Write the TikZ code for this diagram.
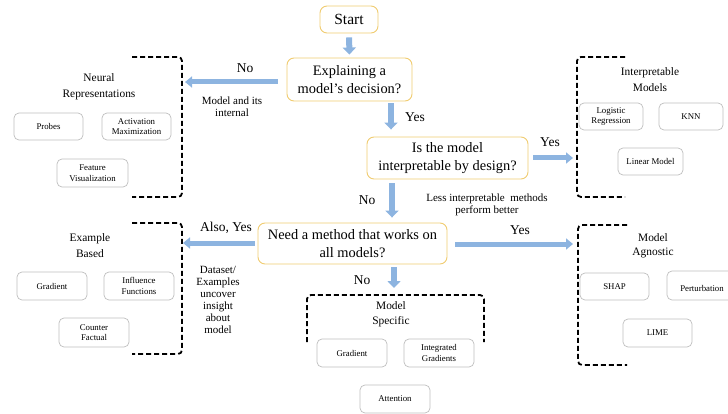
\documentclass[tikz,border=0pt]{standalone}
\usepackage{fontspec}
\setmainfont{Liberation Serif}
\newfontfamily\tnr{Liberation Serif}
\usetikzlibrary{arrows.meta}
\definecolor{flowblue}{RGB}{141,180,224}
\definecolor{gold}{RGB}{240,204,112}
\definecolor{boxgray}{RGB}{190,190,190}
\tikzset{
  qbox/.style={draw=gold, line width=0.9pt, rounded corners=7pt, fill=white, align=center,
    font=\tnr\fontsize{14.4}{17.5}\selectfont, inner sep=0pt},
  gbox/.style={draw=boxgray, line width=0.7pt, rounded corners=5pt, align=center,
    font=\tnr\fontsize{8.8}{10.5}\selectfont, inner sep=0pt, minimum width=70pt, minimum height=28pt},
  flow/.style={draw=flowblue, line width=6pt, -{Triangle[width=13pt,length=7pt]}},
  hflow/.style={draw=flowblue, line width=5pt, -{Triangle[width=11pt,length=7pt]}},
  bracket/.style={draw=black, line width=1.8pt, dash pattern=on 5pt off 3pt, rounded corners=4pt},
  ans/.style={font=\tnr\fontsize{13.5}{16}\selectfont},
  note/.style={font=\tnr\fontsize{11}{12}\selectfont, align=center},
  title/.style={font=\tnr\fontsize{11.4}{16}\selectfont, align=center}
}
\begin{document}
\begin{tikzpicture}[x=1pt,y=-1pt]
\useasboundingbox (0,0) rectangle (728,414);
\clip (0,0) rectangle (728,414);

% decision boxes
\node[qbox, minimum width=58pt, minimum height=27pt, font=\tnr\fontsize{15.5}{18}\selectfont] (start) at (349,19.5) {Start};
\node[qbox, minimum width=125pt, minimum height=43pt] (q1) at (349.5,79.5) {Explaining a\\model’s decision?};
\node[qbox, minimum width=161pt, minimum height=42pt] (q2) at (447.5,158) {Is the model\\interpretable by design?};
\node[qbox, minimum width=189pt, minimum height=41pt] (q3) at (352.5,243.5) {Need a method that works on\\all models?};

% bracket anchor coordinates
\coordinate (nrb) at (182,82);
\coordinate (imb) at (577,158);
\coordinate (ebb) at (182,243);
\coordinate (mab) at (578,244);
\coordinate (msb) at (394,295);
\coordinate (c1) at (391,0);
\coordinate (c2) at (392,0);

% arrows
\draw[flow, shorten <=4pt, shorten >=3pt] (start.south) -- (q1.north);
\draw[flow, shorten <=2pt, shorten >=7pt] (q1.south -| c1) -- (q2.north -| c1);
\draw[flow, shorten <=4pt, shorten >=5pt] (q2.south -| c2) -- (q3.north -| c2);
\draw[flow, shorten <=3pt, shorten >=7pt] (q3.south -| msb) -- (msb);
\draw[hflow, shorten <=9pt, shorten >=3pt] (q1.west |- nrb) -- (nrb);
\draw[hflow, shorten <=5pt, shorten >=4pt] (q2.east) -- (imb);
\draw[hflow, shorten <=8pt, shorten >=5pt] (q3.east |- mab) -- (mab);
\draw[hflow, shorten <=3pt, shorten >=1pt] (q3.west |- ebb) -- (ebb);

% labels on arrows
\node[ans] (lno1) at (245,68) {No};
\node[note] (lmod) at (232,106.5) {Model and its\\internal};
\node[ans] (lyes1) at (415,117) {Yes};
\node[ans] (lyes2) at (550,142) {Yes};
\node[ans] (lno2) at (367,200) {No};
\node[note] (lless) at (487,205) {Less interpretable\ \ methods\\perform better};
\node[ans] (lalso) at (226,228) {Also, Yes};
\node[ans] (lyes3) at (520,230) {Yes};
\node[ans] (lno3) at (362,280) {No};
\node[note] (ldata) at (218,300) {Dataset/\\Examples\\uncover\\insight\\about\\model};

% brackets
\draw[bracket] (132,57) -- (182,57) -- (182,197) -- (132,197);
\draw[bracket] (625,57) -- (577,57) -- (577,197) -- (625,197);
\draw[bracket] (132,223) -- (182,223) -- (182,354) -- (132,354);
\draw[bracket] (627,225) -- (578,225) -- (578,365) -- (627,365);
\draw[bracket] (307,342) -- (307,295) -- (484,295) -- (484,342);

% group titles
\node[title] (tnr) at (99,87) {Neural\\Representations};
\node[title] (tim) at (650,80) {Interpretable\\Models};
\node[title] (teb) at (90,246) {Example\\Based};
\node[title, font=\tnr\fontsize{11.4}{15}\selectfont] (tms) at (391,314) {Model\\Specific};
\node[title, font=\tnr\fontsize{11.4}{14}\selectfont] (tma) at (653,246) {Model\\Agnostic};

% method boxes
\node[gbox, minimum width=69pt, minimum height=27pt] (probes) at (48.5,126.5) {Probes};
\node[gbox, minimum width=69pt, minimum height=27pt] (actmax) at (136.5,126.5) {Activation\\Maximization};
\node[gbox, minimum width=71pt] (featvis) at (92.5,173) {Feature\\Visualization};

\node[gbox, minimum width=64pt, minimum height=27pt] (logreg) at (611,116.5) {Logistic\\Regression};
\node[gbox, minimum width=64pt, minimum height=27pt] (knn) at (691,116.5) {KNN};
\node[gbox, minimum width=65pt, minimum height=27pt] (linmod) at (650.5,161.5) {Linear Model};

\node[gbox] (ebgrad) at (52,286) {Gradient};
\node[gbox] (influ) at (139,286) {Influence\\Functions};
\node[gbox, minimum height=29pt] (counter) at (94,332.5) {Counter\\Factual};

\node[gbox] (msgrad) at (352,353) {Gradient};
\node[gbox] (intgrad) at (439,353) {Integrated\\Gradients};
\node[gbox] (attn) at (395,399) {Attention};

\node[gbox, minimum width=69pt, minimum height=27pt] (shap) at (614.5,286.5) {SHAP};
\node[gbox, minimum width=70pt, minimum height=29pt, text height=13pt] (pert) at (702,285.5) {Perturbation};
\node[gbox, minimum width=69pt] (lime) at (657.5,333) {LIME};
\end{tikzpicture}
\end{document}
